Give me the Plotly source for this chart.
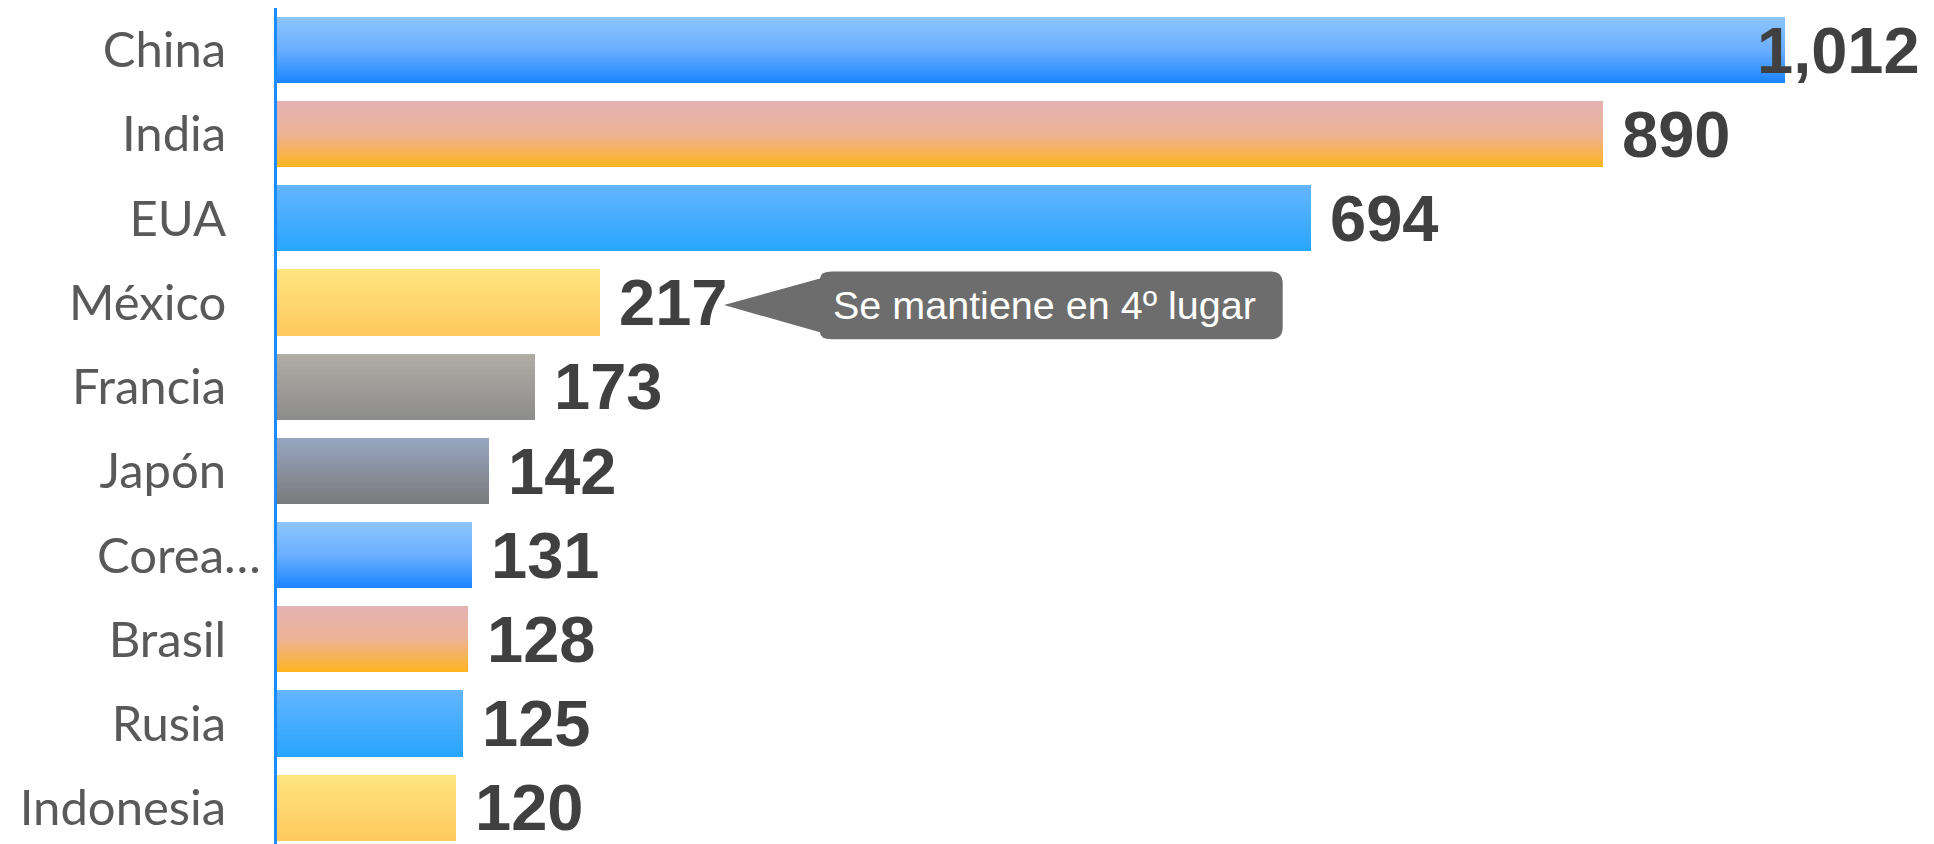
import plotly.graph_objects as go

# ---- data ----
countries = ["China", "India", "EUA", "México", "Francia", "Japón",
             "Corea…", "Brasil", "Rusia", "Indonesia"]
values = [1012, 890, 694, 217, 173, 142, 131, 128, 125, 120]
value_labels = ["1,012", "890", "694", "217", "173", "142", "131", "128", "125", "120"]
callout_text = "Se mantiene en 4º lugar"
callout_country = "México"
overflow_label = "Corea…"   # truncated label whose ellipsis spills past the label column

# ---- styles (gradient stops: top -> bottom) ----
BLUE1 = [(0.0, (140, 197, 251)), (0.5, (106, 174, 254)), (1.0, (26, 132, 255))]
PINK = [(0.0, (228, 178, 179)), (0.5, (237, 179, 148)), (1.0, (255, 180, 31))]
BLUE2 = [(0.0, (100, 181, 255)), (1.0, (39, 165, 255))]
YELL = [(0.0, (255, 229, 127)), (1.0, (254, 201, 95))]
GRAY = [(0.0, (176, 173, 165)), (1.0, (140, 140, 140))]
BGRAY = [(0.0, (151, 166, 194)), (1.0, (122, 122, 122))]
bar_styles = [BLUE1, PINK, BLUE2, YELL, GRAY, BGRAY, BLUE1, PINK, BLUE2, YELL]


def grad_color(stops, t):
    for (t0, c0), (t1, c1) in zip(stops[:-1], stops[1:]):
        if t <= t1:
            f = 0 if t1 == t0 else (t - t0) / (t1 - t0)
            c = [round(a + (b - a) * f) for a, b in zip(c0, c1)]
            return "rgb(%d,%d,%d)" % tuple(c)
    return "rgb(%d,%d,%d)" % stops[-1][1]


pos = list(range(len(countries)))
BAR_W = 0.78
N = 40

fig = go.Figure()
for k in range(N):
    frac = (N - k) / N
    t = (N - k - 0.5) / N
    fig.add_trace(go.Bar(
        x=values, y=pos, orientation="h",
        offset=-BAR_W / 2, width=BAR_W * frac,
        marker=dict(color=[grad_color(s, t) for s in bar_styles], line=dict(width=0)),
        hoverinfo="skip", showlegend=False,
    ))

# the page body adds an 8px margin, compensated in the figure margins
W, H = 1934, 844
ML, MR, MT, MB = 269, 22, 0, 8
px_per_unit = 1.4898
pitch = 84.2
xmax = (W - ML - MR) / px_per_unit
ybot = -0.5 + (H - MT - MB) / pitch

VAL_FONT = dict(family="Liberation Sans, Arial", size=65, color="#404040", weight="bold")
CAT_FONT = dict(family="Lato", size=49, color="#595959")

annotations = []
for i, (v, lab) in enumerate(zip(values, value_labels)):
    if (v * px_per_unit + 17 + 165) > (W - ML - MR):
        annotations.append(dict(x=xmax, y=i, xref="x", yref="y", text=lab,
                                showarrow=False, xanchor="right", yanchor="middle",
                                xshift=2, font=VAL_FONT))
    else:
        annotations.append(dict(x=v, y=i, xref="x", yref="y", text=lab,
                                showarrow=False, xanchor="left", yanchor="middle", xshift=17,
                                font=VAL_FONT))

# category tick labels; the overflowing one is drawn as an annotation
ticktext = ["" if c == overflow_label else c for c in countries]
oi = countries.index(overflow_label)
annotations.append(dict(x=0, y=oi, xref="paper", yref="y", text=overflow_label,
                        showarrow=False, xanchor="right", yanchor="middle",
                        xshift=-14, yshift=1, font=CAT_FONT))

ci = countries.index(callout_country)
cv = values[ci]
# callout bubble in pixel offsets relative to the end of the México bar
tip_x, tip_y = 123.7, -2.3
L, R, T, B, r = 219.7, 682.4, 31.2, -36.6, 12
path = (f"M {tip_x},{tip_y} L {L},{T-7} Q {L},{T} {L+r},{T} L {R-r},{T} "
        f"Q {R},{T} {R},{T-r} L {R},{B+r} Q {R},{B} {R-r},{B} L {L+r},{B} "
        f"Q {L},{B} {L},{B+7} Z")
shapes = [dict(type="path", xref="x", yref="y", xsizemode="pixel", ysizemode="pixel",
               xanchor=cv, yanchor=ci, path=path, fillcolor="#6d6d6d",
               line=dict(width=0), layer="above")]
annotations.append(dict(x=cv, y=ci, xref="x", yref="y", text=callout_text,
                        showarrow=False, xanchor="center", yanchor="middle",
                        xshift=(L + R) / 2 - 7, yshift=(T + B) / 2,
                        font=dict(family="Liberation Sans, Arial", size=39.5, color="#ffffff")))

fig.update_layout(
    width=W, height=H,
    margin=dict(l=ML, r=MR, t=MT, b=MB, pad=0, autoexpand=False),
    paper_bgcolor="white", plot_bgcolor="white",
    barmode="overlay", bargap=0,
    showlegend=False,
    xaxis=dict(range=[0, xmax], visible=False, fixedrange=True, automargin=False),
    yaxis=dict(range=[ybot, -0.5], tickvals=pos, ticktext=ticktext,
               showgrid=False, zeroline=False, showline=True, automargin=False,
               linecolor="#1a8cff", linewidth=3, ticks="",
               ticklabelstandoff=38, tickfont=CAT_FONT,
               fixedrange=True),
    annotations=annotations,
    shapes=shapes,
)

fig.write_html("out.html", config={"displayModeBar": False})
